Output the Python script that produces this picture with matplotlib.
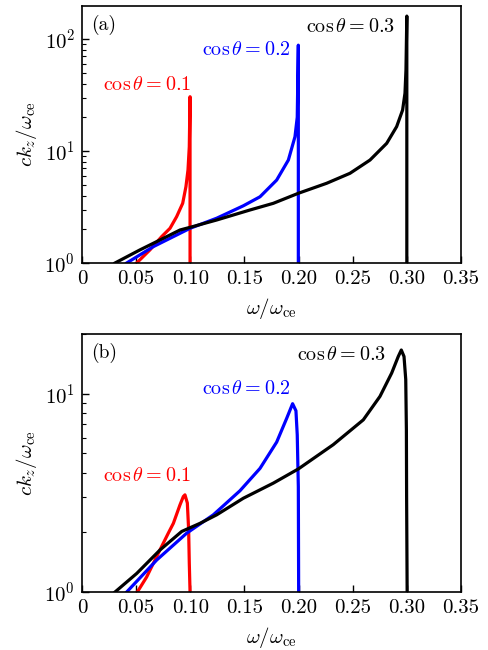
"""Dispersion curves ck_z/w_ce vs w/w_ce for three propagation angles."""

import matplotlib

matplotlib.use("Agg")
import matplotlib.pyplot as plt

plt.rcParams["font.family"] = ["cmr10", "DejaVu Serif"]
plt.rcParams["mathtext.fontset"] = "cm"
plt.rcParams["axes.formatter.use_mathtext"] = True
plt.rcParams["font.size"] = 15

# Panel (a): curves with resonance at w = cos(theta) w_ce
a_w_01 = [0.0505, 0.0628, 0.0736, 0.0813, 0.0874, 0.093, 0.096, 0.0979, 0.0991,
          0.0998, 0.0998, 0.0998]
a_k_01 = [1.0, 1.31, 1.72, 2.04, 2.59, 3.41, 4.8, 6.77, 10.9, 30.5, 5.0, 1.0]
a_w_02 = [0.0413, 0.0659, 0.0998, 0.1244, 0.149, 0.1644, 0.1798, 0.1906, 0.1967,
          0.1988, 0.1998, 0.1998, 0.1998]
a_k_02 = [1.0, 1.40, 2.04, 2.51, 3.24, 3.9, 5.5, 8.3, 13.4, 20.0, 88.0, 5.0, 1.0]
a_w_03 = [0.0305, 0.0536, 0.0751, 0.0905, 0.0997, 0.1244, 0.155, 0.1767, 0.1998,
          0.226, 0.2475, 0.266, 0.2814, 0.2906, 0.2961, 0.2983, 0.2992, 0.3,
          0.3, 0.3]
a_k_03 = [1.0, 1.31, 1.66, 1.97, 2.08, 2.42, 2.97, 3.41, 4.19,
          5.15, 6.32, 8.3, 11.7, 16.5, 23.2, 32.8, 52.8, 160.0, 10.0, 1.0]

# Panel (b): curves with finite peak before the cutoff
b_w_01 = [0.0511, 0.0597, 0.0705, 0.0797, 0.0844, 0.0905, 0.0936, 0.0951, 0.0973,
          0.0985, 0.0991, 0.0998]
b_k_01 = [1.0, 1.19, 1.57, 1.98, 2.22, 2.75, 3.03, 3.09, 2.81, 2.06, 1.40, 1.0]
b_w_02 = [0.0413, 0.069, 0.0967, 0.1213, 0.1459, 0.1644, 0.1798, 0.189, 0.1945,
          0.1976, 0.1988, 0.1998, 0.2001]
b_k_02 = [1.0, 1.45, 1.98, 2.45, 3.24, 4.2, 5.7, 7.5, 8.9, 8.2, 6.2, 3.4, 1.0]
b_w_03 = [0.0305, 0.0505, 0.0721, 0.0921, 0.109, 0.1244, 0.149, 0.1767, 0.2,
          0.232, 0.2598, 0.2752, 0.286, 0.2921, 0.2949, 0.2974, 0.299, 0.2996,
          0.2998, 0.3003]
b_k_03 = [1.0, 1.24, 1.63, 2.02, 2.22, 2.45, 2.97, 3.54, 4.18,
          5.53, 7.38, 9.69, 12.7, 15.4, 16.6, 15.4, 11.8, 6.57, 3.03, 1.0]

colors = ["red", "blue", "black"]
cos_labels = [r"$\cos\theta=0.1$", r"$\cos\theta=0.2$", r"$\cos\theta=0.3$"]
x_ticks = [0, 0.05, 0.10, 0.15, 0.20, 0.25, 0.30, 0.35]
x_tick_labels = ["0", "0.05", "0.10", "0.15", "0.20", "0.25", "0.30", "0.35"]


def style_axes(ax, ymax):
    ax.set_yscale("log")
    ax.set_xlim(0, 0.35)
    ax.set_ylim(1, ymax)
    ax.set_xticks(x_ticks)
    ax.set_xticklabels(x_tick_labels)
    ax.tick_params(which="both", direction="in", top=False, right=False)
    ax.tick_params(which="major", length=5, width=1, pad=5)
    ax.tick_params(which="minor", length=3, width=0.8)
    ax.set_xlabel(r"$\omega/\omega_{\rm ce}$", labelpad=6)
    ax.set_ylabel(r"$ck_z/\omega_{\rm ce}$", labelpad=4)
    for s in ax.spines.values():
        s.set_linewidth(1.2)


fig = plt.figure(figsize=(4.88, 6.5), dpi=100)
ax_a = fig.add_axes([0.168, 0.5954, 0.7766, 0.3954])
ax_b = fig.add_axes([0.168, 0.0892, 0.7766, 0.397])

curves_a = [(a_w_01, a_k_01), (a_w_02, a_k_02), (a_w_03, a_k_03)]
curves_b = [(b_w_01, b_k_01), (b_w_02, b_k_02), (b_w_03, b_k_03)]

for (w, k), c in zip(curves_a, colors):
    ax_a.plot(w, k, color=c, lw=2.3, solid_joinstyle="round")
for (w, k), c in zip(curves_b, colors):
    ax_b.plot(w, k, color=c, lw=2.3, solid_joinstyle="round")

style_axes(ax_a, 197)
style_axes(ax_b, 20)

# labels, (a)
ax_a.text(0.0083, 133, "(a)", va="center", fontsize=14)
ax_a.text(0.2069, 128, cos_labels[2], color="black", va="center", fontsize=14.5)
ax_a.text(0.1108, 80, cos_labels[1], color="blue", va="center", fontsize=14.5)
ax_a.text(0.0194, 38.8, cos_labels[0], color="red", va="center", fontsize=14.5)

# labels, (b)
ax_b.text(0.0083, 16.1, "(b)", va="center", fontsize=14)
ax_b.text(0.1985, 15.7, cos_labels[2], color="black", va="center", fontsize=14.5)
ax_b.text(0.1108, 10.5, cos_labels[1], color="blue", va="center", fontsize=14.5)
ax_b.text(0.0194, 3.85, cos_labels[0], color="red", va="center", fontsize=14.5)

fig.savefig("out.png", dpi=100)
